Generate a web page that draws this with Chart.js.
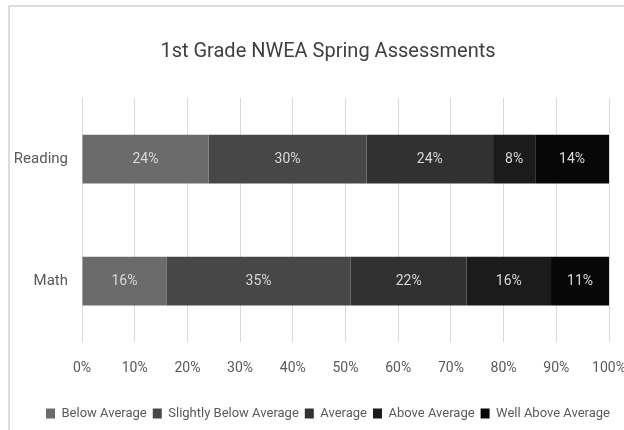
<!DOCTYPE html>
<html>
<head>
<meta charset="utf-8">
<script src="https://cdn.jsdelivr.net/npm/chart.js@4/dist/chart.umd.min.js"></script>
<style>
  html, body { margin: 0; background: #fff; overflow: hidden; }
  #wrap { position: absolute; left: 0; top: 0; width: 656px; height: 430px; }
  #frame { position: absolute; left: 8px; top: 5px; width: 640px; height: 460px; border: 2px solid #dcdcdc; pointer-events: none; }
</style>
</head>
<body>
<div id="frame"></div>
<div id="wrap"><canvas id="grafica" width="656" height="430"></canvas></div>
<script>
var categorias = ["Reading", "Math"];
var niveles = ["Below Average", "Slightly Below Average", "Average", "Above Average", "Well Above Average"];
var belowAverage = [24, 16];
var slightlyBelow = [30, 35];
var average = [24, 22];
var aboveAverage = [8, 16];
var wellAbove = [14, 11];
var tickLabels = ["0%", "10%", "20%", "30%", "40%", "50%", "60%", "70%", "80%", "90%", "100%"];
var colores = ["#6b6b6b", "#474747", "#313131", "#1b1b1b", "#070707"];

var fuente = "'Roboto', 'Liberation Sans', sans-serif";
Chart.defaults.font.family = fuente;
Chart.defaults.color = "#595959";

// etiquetas de porcentaje dentro de cada segmento
var etiquetas = {
	id: "etiquetas",
	afterDatasetsDraw: function(chart){
		var c = chart.ctx;
		c.save();
		c.font = "14px " + fuente;
		c.fillStyle = "#d9d9d9";
		c.textAlign = "center";
		c.textBaseline = "middle";
		chart.data.datasets.forEach(function(ds, i){
			chart.getDatasetMeta(i).data.forEach(function(bar, j){
				var x = (bar.x + bar.base) / 2;
				c.fillText(ds.data[j] + "%", x, bar.y);
			});
		});
		c.restore();
	}
};

var series = [belowAverage, slightlyBelow, average, aboveAverage, wellAbove];
var datasets = series.map(function(valores, i){
	return {
		label: niveles[i],
		data: valores,
		backgroundColor: colores[i],
		borderWidth: 0,
		categoryPercentage: 0.4,
		barPercentage: 1.0
	};
});

var ctx = document.getElementById("grafica").getContext("2d");
var chart = new Chart(ctx, {
	type: "bar",
	data: { labels: categorias, datasets: datasets },
	plugins: [etiquetas],
	options: {
		indexAxis: "y",
		responsive: false,
		animation: false,
		layout: { padding: { left: 0, right: 0, top: 0, bottom: 0 } },
		plugins: {
			title: {
				display: true,
				text: "1st Grade NWEA Spring Assessments",
				color: "#404040",
				font: { size: 20, weight: "normal" },
				padding: { top: 40, bottom: 34 }
			},
			legend: {
				position: "bottom",
				labels: {
					boxWidth: 9,
					boxHeight: 10,
					padding: 6,
					color: "#595959",
					font: { size: 13 }
				}
			},
			tooltip: { enabled: false }
		},
		scales: {
			x: {
				stacked: true,
				min: 0,
				max: 100,
				// el 100% queda cortado por el borde derecho, como en la imagen
				afterFit: function(scale){
					scale.paddingRight = 47;
					scale.paddingLeft = 0;
					scale.height += 6;
				},
				ticks: {
					stepSize: 10,
					padding: 18,
					color: "#595959",
					font: { size: 14 },
					callback: function(v, i){ return tickLabels[i]; }
				},
				grid: { color: "#d9d9d9", lineWidth: 1, drawTicks: false },
				border: { display: false }
			},
			y: {
				stacked: true,
				afterFit: function(scale){ scale.width = 82; },
				ticks: { padding: 14, color: "#595959", font: { size: 15 } },
				grid: { display: false, drawTicks: false },
				border: { display: false }
			}
		}
	}
});
</script>
</body>
</html>
